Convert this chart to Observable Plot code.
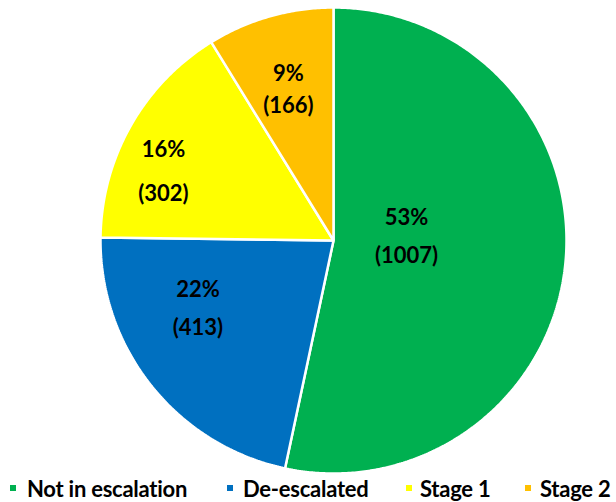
<!DOCTYPE html>
<html>
<head>
<meta charset="utf-8">
<script src="https://cdn.jsdelivr.net/npm/d3@7"></script>
<script src="https://cdn.jsdelivr.net/npm/@observablehq/plot@0.6"></script>
<style>
  html, body { margin: 0; padding: 0; background: #fff; }
  #chart { width: 616px; }
  .legend { position: relative; height: 26px; width: 616px;
    font-family: Lato, "Open Sans", sans-serif; font-weight: bold; font-size: 22px; letter-spacing: -0.25px; color: #000; }
  .legend .sw { position: absolute; width: 6px; height: 6px; top: 9px; }
  .legend .tx { position: absolute; top: 0; line-height: 26px; white-space: nowrap; }
</style>
</head>
<body>
<div id="chart"></div>
<script>
// ---- data ----
const categories = ["Not in escalation", "De-escalated", "Stage 1", "Stage 2"];
const counts = [1007, 413, 302, 166];
const colors = ["#00B050", "#0070C0", "#FFFF00", "#FFC000"];

// ---- label layout (style, not data) ----
const labelRadius = [0.314, 0.652, 0.787, 0.676];
const labelNudgeDeg = [-9, 11.8, -7.6, -0.8];
const labelGapPx = [38, 38, 44, 32];
// legend layout (px)
const legendSwatchX = [10, 227, 406, 525];
const legendTextX = [27, 243, 420, 540];

const R = 233; // pixel radius used only to convert px gaps into scale units
const total = d3.sum(counts);
const rows = categories.map((c, i) => ({category: c, value: counts[i], i}));
const arcs = d3.pie().sort(null).value(d => d.value)(rows);

// polygon points for each slice (center + arc)
const pts = [];
for (const a of arcs) {
  const cat = a.data.category;
  pts.push({category: cat, x: 0, y: 0});
  const steps = Math.max(2, Math.ceil((a.endAngle - a.startAngle) / (Math.PI / 360)));
  for (let k = 0; k <= steps; k++) {
    const t = a.startAngle + (a.endAngle - a.startAngle) * k / steps;
    pts.push({category: cat, x: Math.sin(t), y: Math.cos(t)});
  }
}

// labels
const pctLabels = [], cntLabels = [];
for (const a of arcs) {
  const i = a.data.i;
  const mid = (a.startAngle + a.endAngle) / 2 + labelNudgeDeg[i] * Math.PI / 180;
  const x = labelRadius[i] * Math.sin(mid);
  const y = labelRadius[i] * Math.cos(mid);
  const h = labelGapPx[i] / 2 / R;
  pctLabels.push({x, y: y + h, text: Math.round(a.data.value / total * 100) + "%"});
  cntLabels.push({x, y: y - h, text: "(" + a.data.value + ")"});
}

const plot = Plot.plot({
  width: 616,
  height: 476,
  marginLeft: 100,
  marginRight: 50,
  marginTop: 7,
  marginBottom: 3,
  x: {domain: [-1, 1], axis: null},
  y: {domain: [-1, 1], axis: null},
  color: {domain: categories, range: colors},
  style: {background: "#fff", overflow: "visible"},
  marks: [
    Plot.line(pts, {x: "x", y: "y", z: "category", fill: "category", stroke: "white",
      strokeWidth: 2.5, curve: "linear-closed", strokeLinejoin: "miter"}),
    Plot.text(pctLabels, {x: "x", y: "y", text: "text", fontSize: 22, fontWeight: "bold",
      fontFamily: "Lato, sans-serif", fill: "black"}),
    Plot.text(cntLabels, {x: "x", y: "y", text: "text", fontSize: 22, fontWeight: "bold",
      fontFamily: "Lato, sans-serif", fill: "black"})
  ]
});
document.getElementById("chart").appendChild(plot);

const legend = document.createElement("div");
legend.className = "legend";
categories.forEach((c, i) => {
  const sw = document.createElement("span");
  sw.className = "sw";
  sw.style.background = colors[i];
  sw.style.left = legendSwatchX[i] + "px";
  const tx = document.createElement("span");
  tx.className = "tx";
  tx.style.left = legendTextX[i] + "px";
  tx.textContent = c;
  legend.appendChild(sw);
  legend.appendChild(tx);
});
document.getElementById("chart").appendChild(legend);
</script>
</body>
</html>
